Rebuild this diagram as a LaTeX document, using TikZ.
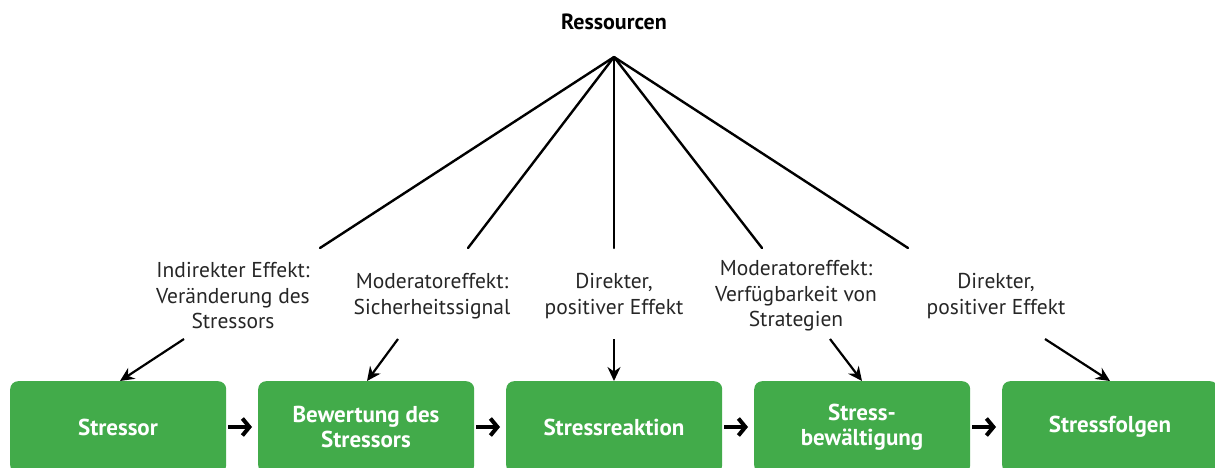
\documentclass[tikz,border=0pt]{standalone}
\usepackage{fontspec}
\setmainfont{PT Sans}
\usetikzlibrary{arrows.meta}
\definecolor{boxgreen}{HTML}{42AB4A}
\begin{document}
\begin{tikzpicture}[x=1pt,y=-1pt,
  stage/.style={fill=boxgreen,draw=none,rounded corners=8pt,minimum width=216pt,minimum height=92pt,
    anchor=north west,inner sep=0pt},
  stagetext/.style={text=white,font=\bfseries\fontsize{23}{25.5}\selectfont,align=center},
  effect/.style={font=\fontsize{21.5}{25.5}\selectfont,align=center,text=black!85},
  spoke/.style={line width=2.4pt},
  pointer/.style={line width=2.2pt,-{Stealth[length=14pt,width=13pt]}},
  flow/.style={line width=4.2pt,-{Straight Barb[length=7pt,width=17pt,line width=4pt]}}]
\useasboundingbox (0,0) rectangle (1215,468);
\clip (0,0) rectangle (1215,468);

% process stages
\node[stage] (s1) at (10,381) {};
\node[stage] (s2) at (258,381) {};
\node[stage] (s3) at (506,381) {};
\node[stage] (s4) at (754,381) {};
\node[stage] (s5) at (1002,381) {};
\node[stagetext] (t1) at (118,427) {Stressor};
\node[stagetext] (t2) at (366,427) {Bewertung des\\Stressors};
\node[stagetext] (t3) at (614,427) {Stressreaktion};
\node[stagetext] (t4) at (862,427) {Stress-\\bewältigung};
\node[stagetext] (t5) at (1110,427) {Stressfolgen};

% flow between stages
\coordinate (f1a) at (228,427); \coordinate (f1b) at (252,427);
\coordinate (f2a) at (476,427); \coordinate (f2b) at (500,427);
\coordinate (f3a) at (724,427); \coordinate (f3b) at (748,427);
\coordinate (f4a) at (972,427); \coordinate (f4b) at (996,427);
\draw[flow] (f1a) -- (f1b);
\draw[flow] (f2a) -- (f2b);
\draw[flow] (f3a) -- (f3b);
\draw[flow] (f4a) -- (f4b);

% resources and spokes
\node[font=\bfseries\fontsize{22}{24}\selectfont] (res) at (614,22) {Ressourcen};
\coordinate (apex) at (614,57);
\coordinate (e1) at (320,248);
\coordinate (e2) at (468,248);
\coordinate (e3) at (614,248);
\coordinate (e4) at (762,248);
\coordinate (e5) at (908,248);
\foreach \i in {1,...,5} \draw[spoke,line cap=round] (apex) -- (e\i);

% effect labels
\node[effect] (l1) at (233,296) {Indirekter Effekt:\\Veränderung des\\Stressors};
\node[effect] (l2) at (432,296) {Moderatoreffekt:\\Sicherheitssignal};
\node[effect] (l3) at (614,296) {Direkter,\\positiver Effekt};
\node[effect] (l4) at (796,296) {Moderatoreffekt:\\Verfügbarkeit von\\Strategien};
\node[effect] (l5) at (996,296) {Direkter,\\positiver Effekt};

% pointers onto the stages
\coordinate (p1) at (184,339); \coordinate (q1) at (120,381);
\coordinate (p2) at (398,339); \coordinate (q2) at (367,381);
\coordinate (p3) at (614,339); \coordinate (q3) at (614,381);
\coordinate (p4) at (830,339); \coordinate (q4) at (862,381);
\coordinate (p5) at (1045,339); \coordinate (q5) at (1110,381);
\foreach \i in {1,...,5} \draw[pointer] (p\i) -- (q\i);
\end{tikzpicture}
\end{document}
